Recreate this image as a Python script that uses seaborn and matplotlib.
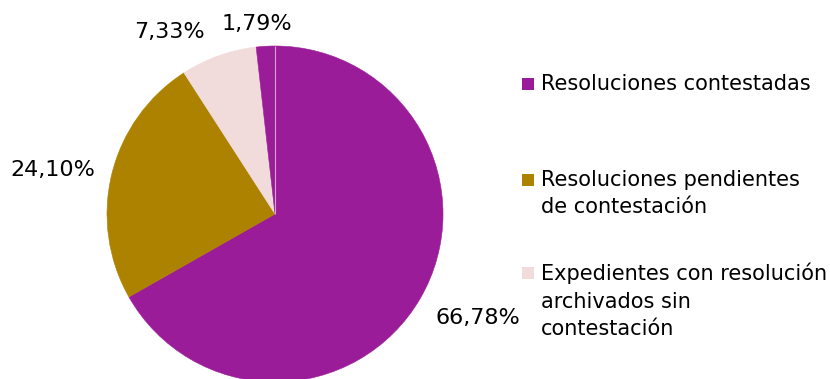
import matplotlib
matplotlib.use("Agg")
import numpy as np
import matplotlib.pyplot as plt
import seaborn as sns
from matplotlib.patches import Rectangle

# Distribution of resolutions by reply status (percent)
categories = [
    "Resoluciones contestadas",
    "Resoluciones pendientes\nde contestación",
    "Expedientes con resolución\narchivados sin\ncontestación",
    "Otros",
]
shares = [66.78, 24.10, 7.33, 1.79]
colors = ["#9B1C98", "#AD8200", "#F2DCDB", "#9B1C98"]
legend_count = 3

sns.set_theme(style="white")
plt.rcParams["font.family"] = ["DejaVu Sans"]

W, H = 830, 379
fig = plt.figure(figsize=(W / 100, H / 100), dpi=100)

# pie centre / radius in pixels
cx, cy, r = 275, 214, 168
ax = fig.add_axes([(cx - r) / W, (H - cy - r) / H, 2 * r / W, 2 * r / H])

wedges, _ = ax.pie(
    shares,
    colors=colors,
    startangle=90,
    counterclock=False,
    wedgeprops=dict(linewidth=0.4),
)
for w, c in zip(wedges, colors):
    w.set_edgecolor(c)

# faint separator between the two purple sectors, along the shared radius
last = wedges[-1]
theta = np.deg2rad(min(last.theta1, last.theta2))
ax.plot([0, np.cos(theta)], [0, np.sin(theta)], color="#D7A3D4",
        linewidth=0.8, zorder=3, solid_capstyle="butt")

ax.set_xlim(-1, 1)
ax.set_ylim(-1, 1)
ax.set_aspect("equal")
ax.axis("off")

# percentage labels, placed in units of the radius
label_pos = [(1.21, -0.62), (-1.32, 0.26), (-0.63, 1.085), (-0.11, 1.13)]
for val, (x, y) in zip(shares, label_pos):
    ax.text(x, y, f"{val:.2f}%".replace(".", ","), ha="center", va="center",
            fontsize=16, color="black", clip_on=False)

# legend: square marker aligned with the first line of each entry
entry_tops = [74, 170, 263]
for i in range(legend_count):
    top = entry_tops[i]
    fig.patches.append(Rectangle((522 / W, (H - top - 16) / H), 12 / W, 12 / H,
                                 transform=fig.transFigure, facecolor=colors[i],
                                 edgecolor="none"))
    fig.text(541 / W, (H - top) / H, categories[i], ha="left", va="top",
             fontsize=15, color="black", linespacing=1.45)

fig.savefig("out.png", dpi=100)
